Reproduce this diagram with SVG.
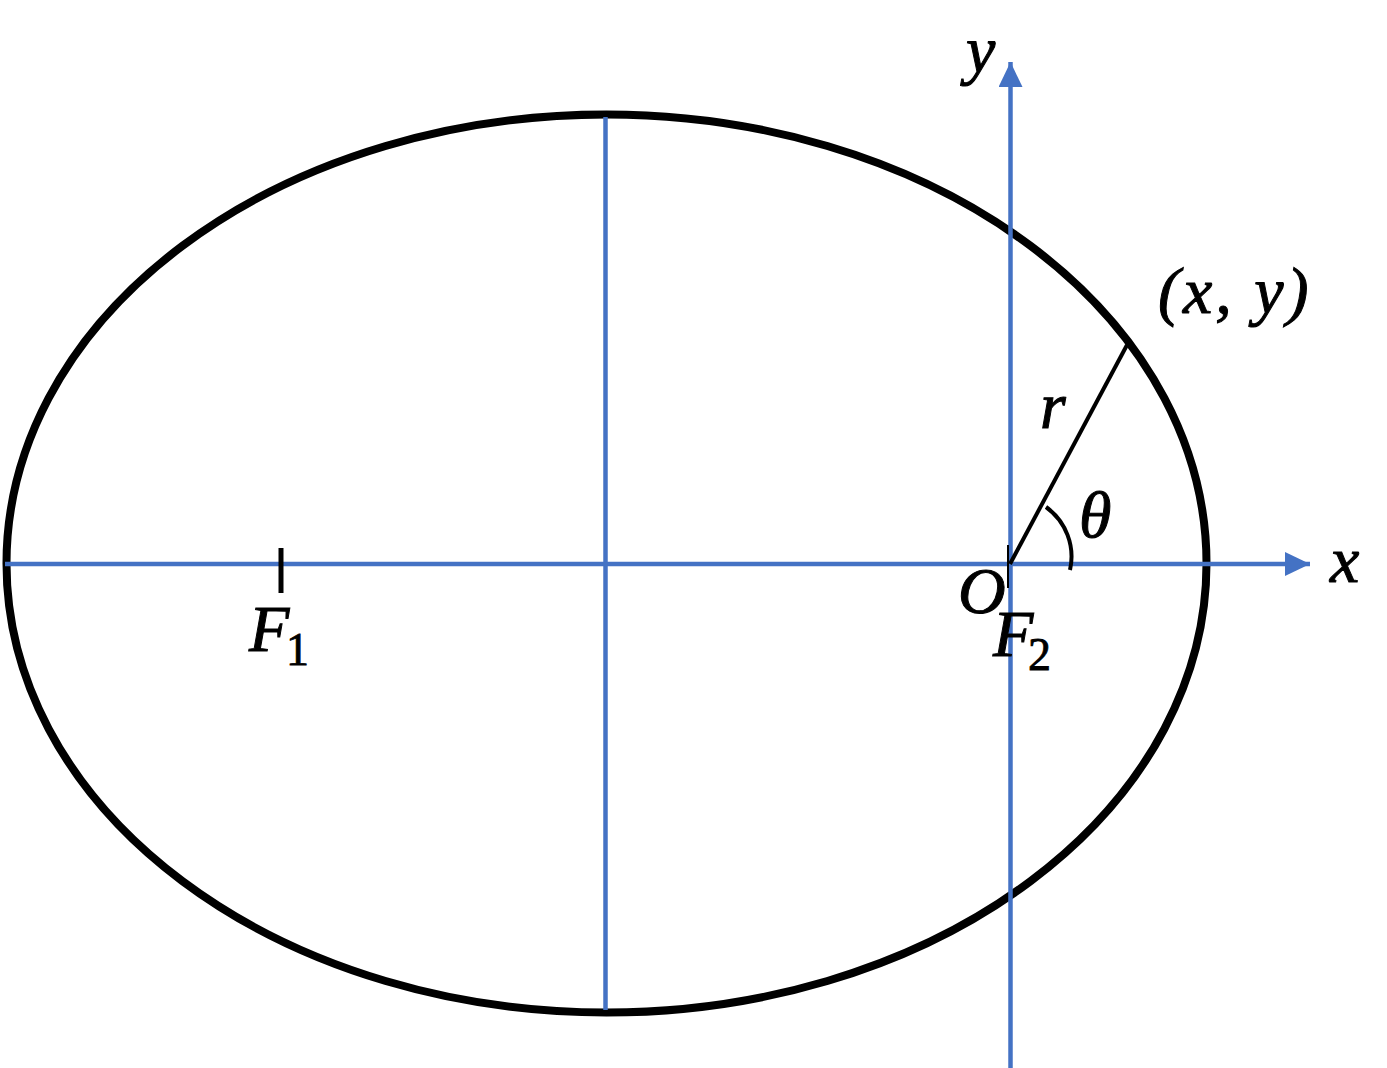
<svg xmlns="http://www.w3.org/2000/svg" width="1387" height="1068" viewBox="0 0 1387 1068">
<style>
.axis{stroke:#4472C4;stroke-width:4.5;fill:none}
.blk{stroke:#000;fill:none}
.m{font-family:"Liberation Serif","DejaVu Serif",serif;font-style:italic;font-size:66px;fill:#000;stroke:#000;stroke-width:1}
.s{font-family:"Liberation Serif","DejaVu Serif",serif;font-size:46px;fill:#000;stroke:#000;stroke-width:0.8}
</style>
<defs>
<marker id="ah" markerUnits="userSpaceOnUse" markerWidth="26" markerHeight="24" refX="25" refY="12" orient="auto">
<path d="M0,0 L25,12 L0,24 Z" fill="#4472C4"/>
</marker>
</defs>
<g id="ellipse"><ellipse cx="606.5" cy="563.5" rx="600" ry="449" class="blk" stroke-width="8"/></g>
<g id="connectors">
<line x1="5" y1="564" x2="1310" y2="564" class="axis" marker-end="url(#ah)"/>
<line x1="1010.5" y1="1068" x2="1010.5" y2="62" class="axis" marker-end="url(#ah)"/>
<line x1="605.5" y1="117" x2="605.5" y2="1010" class="axis"/>
<line x1="1010" y1="564" x2="1127" y2="345" class="blk" stroke-width="4"/>
<path d="M1046,507 A61,61 0 0 1 1070,570" class="blk" stroke-width="4"/>
<line x1="281" y1="548" x2="281" y2="593" class="blk" stroke-width="5"/>
<line x1="1008" y1="545" x2="1008" y2="588" class="blk" stroke-width="2"/>
</g>
<g id="labels">
<text class="m" x="966" y="72">y</text>
<text class="m" x="1330" y="582">x</text>
<text class="m" x="1158" y="313" letter-spacing="3">(x, y)</text>
<text class="m" x="1040" y="428">r</text>
<text class="m" x="1079" y="537">θ</text>
<text class="m" x="958" y="613">O</text>
<text x="249" y="651"><tspan class="m">F</tspan><tspan class="s" x="286" y="665">1</tspan></text>
<text x="993" y="656"><tspan class="m">F</tspan><tspan class="s" x="1028" y="670">2</tspan></text>
</g>
</svg>
